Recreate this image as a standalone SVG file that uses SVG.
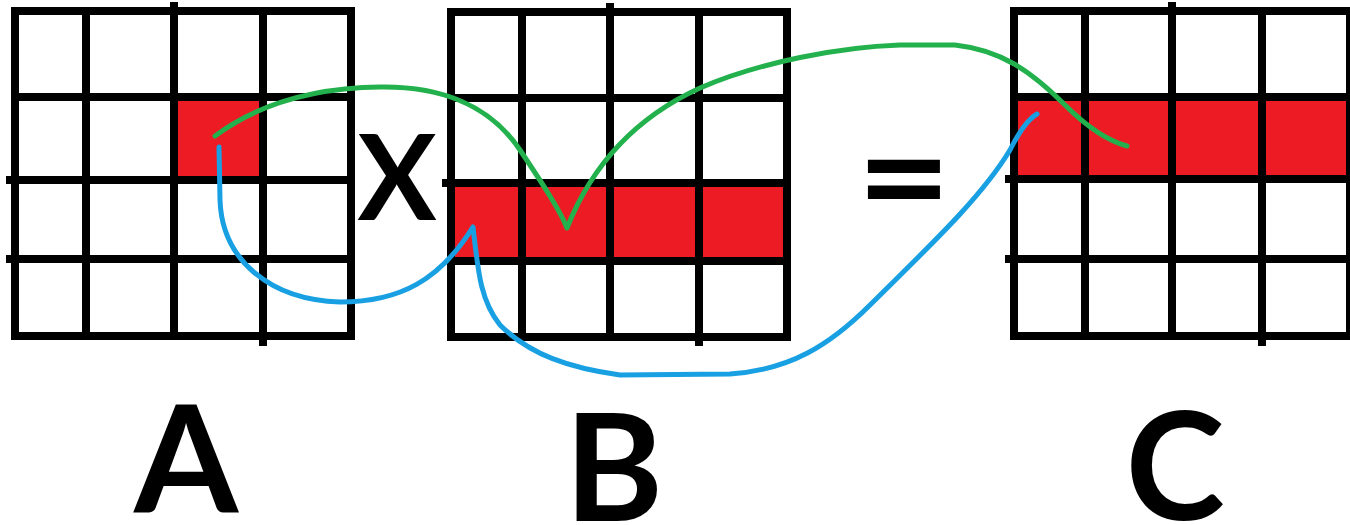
<svg xmlns="http://www.w3.org/2000/svg" width="1350" height="525" viewBox="0 0 1350 525">
<style>
.grid line{stroke:#000;stroke-width:8;stroke-linecap:square}
.red{fill:#ed1c24}
.lbl{font-family:Lato,"Open Sans","Liberation Sans",sans-serif;font-weight:700;fill:#000;text-anchor:middle}
.op{font-family:"DejaVu Sans","Liberation Sans",sans-serif;font-weight:700;fill:#000;text-anchor:middle}
.conn path{fill:none;stroke-width:5;stroke-linecap:round;stroke-linejoin:round}
</style>
<rect width="1350" height="525" fill="#fff"/>
<g id="matrixA" class="grid">
<rect class="red" x="174" y="97" width="89" height="83"/>
<line x1="15" y1="11" x2="15" y2="336"/><line x1="86" y1="11" x2="86" y2="336"/><line x1="174" y1="6" x2="174" y2="336"/><line x1="263" y1="11" x2="263" y2="342"/><line x1="351" y1="11" x2="351" y2="336"/>
<line x1="15" y1="11" x2="351" y2="11"/><line x1="15" y1="97" x2="351" y2="97"/><line x1="10" y1="180" x2="351" y2="180"/><line x1="10" y1="259" x2="351" y2="259"/><line x1="15" y1="336" x2="351" y2="336"/>
</g>
<g id="matrixB" class="grid">
<rect class="red" x="451" y="183" width="336" height="78"/>
<line x1="451" y1="12" x2="451" y2="337"/><line x1="522" y1="12" x2="522" y2="337"/><line x1="610" y1="7" x2="610" y2="337"/><line x1="699" y1="12" x2="699" y2="342"/><line x1="787" y1="12" x2="787" y2="337"/>
<line x1="451" y1="12" x2="787" y2="12"/><line x1="451" y1="98" x2="787" y2="98"/><line x1="446" y1="183" x2="787" y2="183"/><line x1="451" y1="261" x2="787" y2="261"/><line x1="451" y1="337" x2="787" y2="337"/>
</g>
<g id="matrixC" class="grid">
<rect class="red" x="1014" y="97" width="336" height="82"/>
<line x1="1014" y1="11" x2="1014" y2="336"/><line x1="1085" y1="11" x2="1085" y2="336"/><line x1="1172" y1="6" x2="1172" y2="336"/><line x1="1262" y1="11" x2="1262" y2="342"/><line x1="1350" y1="11" x2="1350" y2="336"/>
<line x1="1014" y1="11" x2="1350" y2="11"/><line x1="1014" y1="97" x2="1350" y2="97"/><line x1="1009" y1="179" x2="1350" y2="179"/><line x1="1009" y1="259" x2="1350" y2="259"/><line x1="1014" y1="336" x2="1350" y2="336"/>
</g>
<g id="times"><text class="op" x="397" y="220" font-size="118" font-family="Lato" style="font-family:Lato,'Liberation Sans',sans-serif">X</text></g>
<g id="equals"><text class="op" x="904" y="216" font-size="115">=</text></g>
<g id="labelA"><text class="lbl" x="186" y="513" font-size="150">A</text></g>
<g id="labelB"><text class="lbl" x="614" y="521" font-size="150">B</text></g>
<g id="labelC"><text class="lbl" x="1175" y="520" font-size="150">C</text></g>
<g id="connectors" class="conn">
<path stroke="#22b14c" d="M215,136 C250,110 300,88 380,87 C440,86 490,105 520,150 C540,180 560,210 567,228 C590,170 630,120 700,88 C760,62 840,47 900,45 L955,45 C1000,50 1030,70 1065,105 C1085,125 1105,140 1127,146"/>
<path stroke="#19a0e3" d="M219,147 L220,200 C222,260 270,300 340,302 C400,302 440,280 473,227 C478,270 480,300 500,325 C530,355 570,368 620,375 L730,374 C790,370 830,345 870,305 C920,255 980,200 1010,150 C1020,130 1030,118 1037,114"/>
</g>
</svg>
